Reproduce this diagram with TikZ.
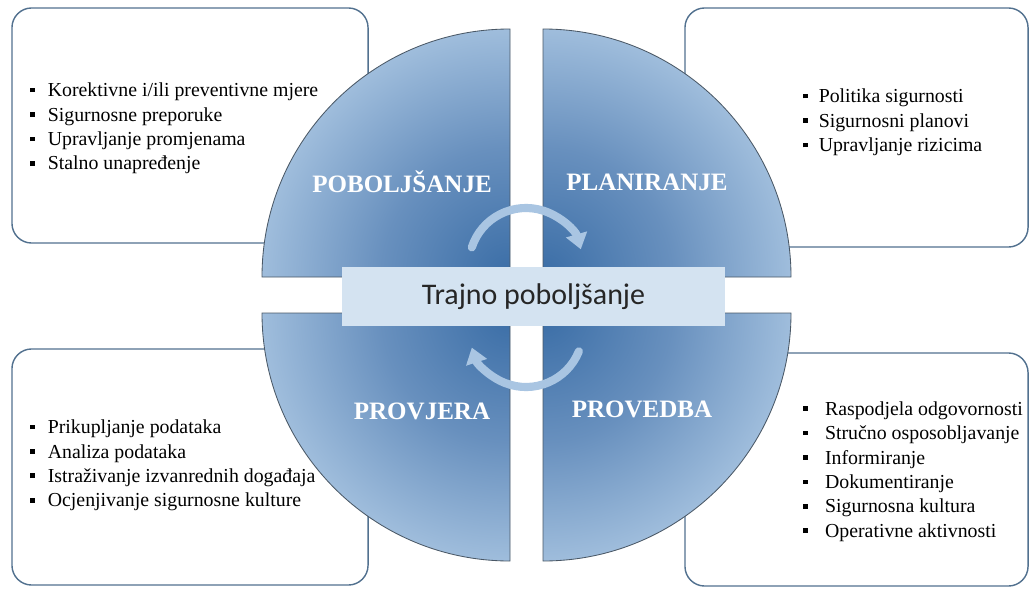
\documentclass[tikz,border=0pt]{standalone}
\usepackage{fontspec}
\setmainfont{Liberation Serif}
\newfontfamily\calibri{Carlito}
\usetikzlibrary{arrows.meta, positioning}

\definecolor{boxline}{HTML}{52718F}
\definecolor{qdark}{HTML}{3A6DA6}
\definecolor{qmid}{HTML}{6890BE}
\definecolor{qlight}{HTML}{9FBDDC}
\definecolor{qedge}{HTML}{4A5866}
\definecolor{bannerfill}{HTML}{D4E3F1}
\definecolor{cycblue}{HTML}{A9C5E2}

% quadrant shading, dark at the centre of the circle
\pgfdeclareradialshading{quadshade}{\pgfpointorigin}{color(0bp)=(qdark); color(13bp)=(qmid); color(25bp)=(qlight); color(50bp)=(qlight)}

% bullet item
\newcommand{\itm}[2][12.5pt]{\makebox[#1][l]{\raisebox{0.22em}{\rule{3.3pt}{3.3pt}}}#2}

\tikzstyle{listbox} = [draw=boxline, line width=1pt, rounded corners=14pt, fill=white, inner sep=0pt]
\tikzstyle{listtext} = [anchor=west, align=left, inner sep=0pt, font=\rmfamily\fontsize{14.1}{17.4}\selectfont]
\tikzstyle{phase} = [text=white, font=\rmfamily\fontsize{17.8}{20}\selectfont\bfseries]
\tikzstyle{banner} = [fill=bannerfill, minimum width=9.575cm, minimum height=1.475cm, inner sep=0pt, font=\calibri\fontsize{21.3}{24}\selectfont, text=black!85]
\tikzstyle{cyclearrow} = [draw=cycblue, line width=5.8pt, line cap=round, -{Triangle[width=15pt,length=11pt]}]

\begin{document}
\begin{tikzpicture}[x=0.025cm, y=0.025cm]

   % Page
   \fill[white] (0,0) rectangle (1030,588);
   \useasboundingbox (0,0) rectangle (1030,588);

   % Boxes behind the circle
   \node[listbox, minimum width=8.9cm, minimum height=5.875cm] (tlBox) at (190,462.5) {};
   \node[listbox, minimum width=8.575cm, minimum height=5.975cm] (trBox) at (856.5,460.5) {};
   \node[listbox, minimum width=8.9cm, minimum height=5.9cm] (blBox) at (190,121) {};
   \node[listbox, minimum width=8.575cm, minimum height=5.825cm] (brBox) at (856.5,118.5) {};

   % Four quadrants
   \foreach \cx/\cy/\a in {510/311/90, 543/311/0, 510/275/180, 543/275/270} {
      \begin{scope}
         \clip (\cx,\cy) -- ++(\a:248) arc[start angle=\a, end angle=\a+90, radius=248] -- cycle;
         \shade[shading=quadshade] (\cx,\cy) circle (248);
      \end{scope}
      \draw[qedge, line width=0.6pt] (\cx,\cy) -- ++(\a:248) arc[start angle=\a, end angle=\a+90, radius=248] -- cycle;
   }

   % Centre banner
   \node[banner] (trajno) at (533.5,291.5) {Trajno poboljšanje};

   % Cycle arrows
   \coordinate (topc) at (526,323);
   \coordinate (botc) at (526,258);
   \draw[cyclearrow] ([shift={(162:57)}]topc) arc (162:16:57);
   \draw[cyclearrow] ([shift={(-22:57)}]botc) arc (-22:-162:57);

   % Phase names
   \node[phase] (poboljsanje) at (402,406) {POBOLJŠANJE};
   \node[phase] (planiranje) at (647,406) {PLANIRANJE};
   \node[phase] (provjera) at (422,177) {PROVJERA};
   \node[phase] (provedba) at (642,179) {PROVEDBA};

   % Lists
   \node[listtext] (tlList) at (30,459.5) {\itm{Korektivne i/ili preventivne mjere}\\
      \itm{Sigurnosne preporuke}\\ \itm{Upravljanje promjenama}\\ \itm{Stalno unapređenje}};
   \node[listtext] (trList) at (803,465.5) {\itm[11pt]{Politika sigurnosti}\\
      \itm[11pt]{Sigurnosni planovi}\\ \itm[11pt]{Upravljanje rizicima}};
   \node[listtext] (blList) at (30,122.5) {\itm{Prikupljanje podataka}\\ \itm{Analiza podataka}\\
      \itm{Istraživanje izvanrednih događaja}\\ \itm{Ocjenjivanje sigurnosne kulture}};
   \node[listtext] (brList) at (803,116.5) {\itm[15.5pt]{Raspodjela odgovornosti}\\
      \itm[15.5pt]{Stručno osposobljavanje}\\ \itm[15.5pt]{Informiranje}\\
      \itm[15.5pt]{Dokumentiranje}\\ \itm[15.5pt]{Sigurnosna kultura}\\
      \itm[15.5pt]{Operativne aktivnosti}};

\end{tikzpicture}
\end{document}
